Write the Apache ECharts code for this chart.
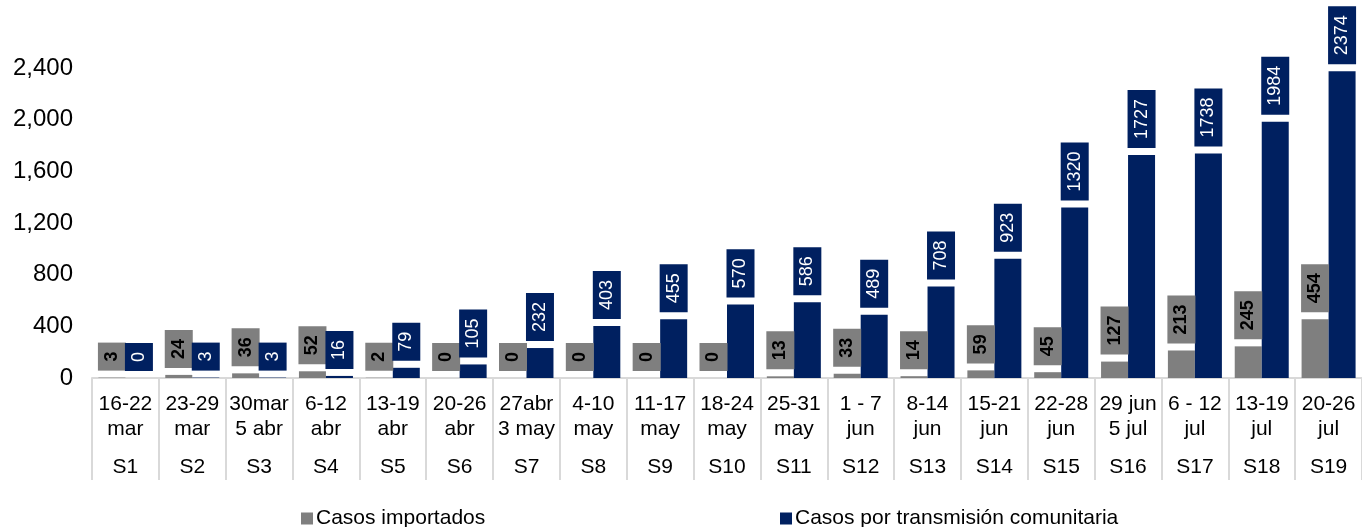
<!DOCTYPE html>
<html>
<head>
<meta charset="utf-8">
<script src="https://cdn.jsdelivr.net/npm/echarts@6/dist/echarts.min.js"></script>
<style>
  html, body { margin: 0; padding: 0; background: #fff; }
  #main { width: 1362px; height: 527px; }
</style>
</head>
<body>
<div id="main"></div>
<script>
// semanas
var semanas = ['S1', 'S2', 'S3', 'S4', 'S5', 'S6', 'S7', 'S8', 'S9', 'S10',
  'S11', 'S12', 'S13', 'S14', 'S15', 'S16', 'S17', 'S18', 'S19'];
// fechas de cada semana (dos renglones)
var fechas = ['16-22\nmar', '23-29\nmar', '30mar\n5 abr', '6-12\nabr', '13-19\nabr',
  '20-26\nabr', '27abr\n3 may', '4-10\nmay', '11-17\nmay', '18-24\nmay',
  '25-31\nmay', '1 - 7\njun', '8-14\njun', '15-21\njun', '22-28\njun',
  '29 jun\n5 jul', '6 - 12\njul', '13-19\njul', '20-26\njul'];
var importados = [3, 24, 36, 52, 2, 0, 0, 0, 0, 0, 13, 33, 14, 59, 45, 127, 213, 245, 454];
var comunitarios = [0, 3, 3, 16, 79, 105, 232, 403, 455, 570, 586, 489, 708, 923, 1320, 1727, 1738, 1984, 2374];
var yTicks = { min: 0, max: 2400, interval: 400 };

var fuente = 'Liberation Sans, Arial, sans-serif';
var gris = '#7f7f7f';
var azul = '#002060';

let myChart = echarts.init(document.getElementById('main'));

var option = {
  textStyle: { fontFamily: fuente },
  title: {
    text: 'Casos por tipo de transmisión, del 16 de marzo al 26 de julio de 2020',
    left: 'center',
    top: -25,
    textStyle: { fontSize: 21, fontWeight: 'bold', color: '#000', fontFamily: fuente }
  },
  legend: [{
    data: ['Casos importados'],
    left: 296,
    top: 503,
    itemWidth: 12,
    itemHeight: 12,
    icon: 'rect',
    textStyle: { fontSize: 21, color: '#000', fontFamily: fuente, padding: [0, 0, 0, -2] }
  }, {
    data: ['Casos por transmisión comunitaria'],
    left: 775,
    top: 503,
    itemWidth: 12,
    itemHeight: 12,
    icon: 'rect',
    textStyle: { fontSize: 21, color: '#000', fontFamily: fuente, padding: [0, 0, 0, -2] }
  }],
  grid: {                   // area del grafico
    left: 92,
    right: 0,
    top: 68,
    bottom: 149
  },
  xAxis: {
    type: 'category',
    data: semanas,
    axisLine: { lineStyle: { color: '#d9d9d9', width: 2 } },
    axisTick: { show: true, interval: 0, length: 102, lineStyle: { color: '#d9d9d9', width: 2 } },
    axisLabel: {
      interval: 0,
      margin: 14,
      formatter: function (value, idx) {
        var f = fechas[idx].split('\n');
        return '{d|' + f[0] + '}\n{d|' + f[1] + '}\n{s|' + value + '}';
      },
      rich: {
        d: { fontSize: 21, lineHeight: 25, color: '#000', fontFamily: fuente },
        s: { fontSize: 21, lineHeight: 50, color: '#000', fontFamily: fuente }
      }
    }
  },
  yAxis: {
    type: 'value',
    min: yTicks.min,
    max: yTicks.max,
    interval: yTicks.interval,
    splitLine: { show: false },
    axisLine: { show: false },
    axisTick: { show: false },
    axisLabel: {
      margin: 19,
      fontSize: 24,
      color: '#000',
      fontFamily: fuente,
      formatter: function (v) { return v.toLocaleString('en-US'); }
    }
  },
  series: [{
    name: 'Casos importados',
    type: 'bar',
    data: importados,
    barWidth: 27,
    barGap: '0%',
    itemStyle: { color: gris },
    label: {
      show: true,
      position: 'top',
      rotate: 90,
      align: 'left',
      verticalAlign: 'middle',
      distance: 7,
      fontSize: 18,
      fontWeight: 'bold',
      color: '#000',
      fontFamily: fuente,
      backgroundColor: gris,
      padding: [5, 9]
    }
  }, {
    name: 'Casos por transmisión comunitaria',
    type: 'bar',
    data: comunitarios,
    barWidth: 27,
    itemStyle: { color: azul },
    label: {
      show: true,
      position: 'top',
      rotate: 90,
      align: 'left',
      verticalAlign: 'middle',
      distance: 7,
      fontSize: 18,
      color: '#fff',
      fontFamily: fuente,
      backgroundColor: azul,
      padding: [5, 9]
    }
  }]
};

myChart.setOption(option);
</script>
</body>
</html>
